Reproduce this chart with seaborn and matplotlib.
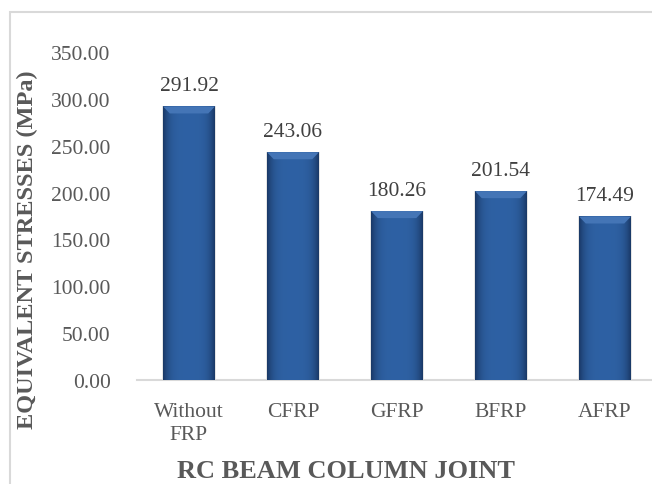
import numpy as np
import pandas as pd
import matplotlib
matplotlib.use("Agg")
import matplotlib.pyplot as plt
import matplotlib.patches as mpatches
import seaborn as sns

# Chart data
categories = ["Without\nFRP", "CFRP", "GFRP", "BFRP", "AFRP"]
stresses = [291.92, 243.06, 180.26, 201.54, 174.49]
y_ticks = [0, 50, 100, 150, 200, 250, 300, 350]

df = pd.DataFrame({"joint": categories, "stress": stresses})

sns.set_style("white")
plt.rcParams["font.family"] = ["Liberation Serif", "DejaVu Serif"]

fig = plt.figure(figsize=(6.52, 4.85), dpi=100)
ax = fig.add_axes([137 / 652, 104 / 485, 520 / 652, 328 / 485])

sns.barplot(data=df, x="joint", y="stress", color="#2b5c9c", width=0.5,
            saturation=1, edgecolor="none", ax=ax)

# bar shading: dark edges, lighter middle, bevelled top
edge = np.array([0.10, 0.22, 0.40])
mid = np.array([0.18, 0.38, 0.64])
t = np.abs(np.linspace(-1, 1, 120)) ** 4
grad = (mid[None, :] * (1 - t[:, None]) + edge[None, :] * t[:, None])[None, :, :]
for p in ax.patches:
    x0, w, h = p.get_x(), p.get_width(), p.get_height()
    im = ax.imshow(grad, extent=[x0, x0 + w, 0, h], aspect="auto", zorder=3,
                   interpolation="bilinear")
    im.set_clip_path(p)
    dx, dy = w * 0.13, 7.5
    bevel = mpatches.Polygon([[x0, h], [x0 + w, h], [x0 + w - dx, h - dy],
                              [x0 + dx, h - dy]], closed=True,
                             facecolor="#4475b6", edgecolor="none", zorder=4)
    ax.add_patch(bevel)
    ax.add_patch(mpatches.Rectangle((x0 - 0.012, 0), w + 0.024, h, facecolor="#000000",
                                    alpha=0.10, edgecolor="none", zorder=2))
    ax.text(x0 + w / 2, h + 12, f"{h:.2f}", ha="center", va="bottom",
            fontsize=15.5, color="#404040", zorder=5)

ax.set_xlim(-0.5, 4.5)
ax.set_ylim(0, 350)
ax.set_yticks(y_ticks)
ax.set_yticklabels([f"{v:.2f}" for v in y_ticks])
ax.tick_params(axis="y", length=0, pad=19, labelsize=15.5, labelcolor="#595959")
ax.tick_params(axis="x", length=0, pad=16, labelsize=15.5, labelcolor="#595959")
for lbl in ax.get_xticklabels():
    lbl.set_linespacing(1.25)

for s in ["top", "right", "left"]:
    ax.spines[s].set_visible(False)
ax.spines["bottom"].set_color("#d9d9d9")
ax.spines["bottom"].set_linewidth(1.5)

ax.set_xlabel("")
ax.set_ylabel("")
fig.text(27 / 652, 1 - 250 / 485, "EQUIVALENT STRESSES (MPa)", rotation=90,
         ha="center", va="center", fontsize=17.5, fontweight="bold", color="#595959")
fig.text(346 / 652, 1 - 472 / 485, "RC BEAM COLUMN JOINT", ha="center",
         va="center", fontsize=19, fontweight="bold", color="#595959")

# outer chart border (cropped at right and bottom)
fig.patches.append(mpatches.Rectangle((10 / 652, -0.2), 2, 1 - 13 / 485 + 0.2,
                                      transform=fig.transFigure, fill=False,
                                      edgecolor="#d9d9d9", linewidth=1.5))

fig.savefig("out.png", dpi=100)
